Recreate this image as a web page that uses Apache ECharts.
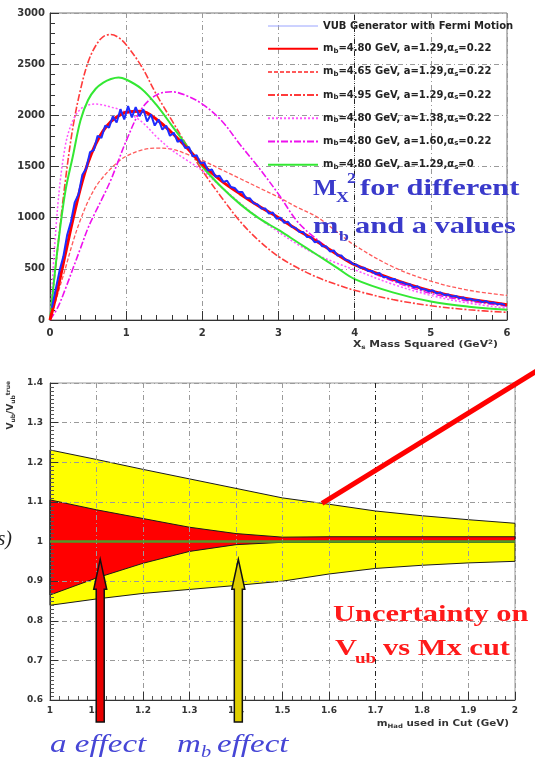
<!DOCTYPE html>
<html>
<head>
<meta charset="utf-8">
<script src="https://cdn.jsdelivr.net/npm/echarts@6/dist/echarts.min.js"></script>
<style>
  html, body { margin: 0; padding: 0; background: #fff; }
  #c { width: 535px; height: 762px; }
</style>
</head>
<body>
<div id="c"></div>
<script>
// ---------- Upper panel: X_s mass-squared spectra (events per bin) ----------
const mxPoints = [0, 0.1, 0.2, 0.3, 0.4, 0.5, 0.6, 0.7, 0.8, 0.9, 1.0,
                  1.2, 1.4, 1.6, 1.8, 2.0,
                  2.25, 2.5, 2.75, 3.0, 3.25, 3.5, 3.75, 4.0,
                  4.5, 5.0, 5.5, 6.0];
const mb480 = [0, 300, 640, 980, 1290, 1540, 1720, 1850, 1940, 1995, 2030,
               2040, 1960, 1830, 1680, 1520,
               1360, 1230, 1110, 1000, 880, 770, 650, 540,
               400, 285, 205, 150];
const mb465 = [0, 250, 500, 760, 980, 1160, 1300, 1400, 1480, 1550, 1600,
               1660, 1680, 1670, 1620, 1560,
               1470, 1380, 1290, 1200, 1100, 1010, 870, 730,
               520, 380, 290, 240];
const mb495 = [0, 700, 1350, 1880, 2250, 2520, 2680, 2770, 2790, 2760, 2690,
               2480, 2200, 1950, 1700, 1460,
               1200, 960, 770, 620, 510, 420, 350, 290,
               200, 140, 100, 75];
const a138 = [0, 1100, 1700, 1950, 2060, 2100, 2110, 2100, 2080, 2060, 2030,
              1940, 1790, 1660, 1560, 1460,
              1300, 1140, 990, 860, 740, 640, 560, 490,
              350, 240, 165, 115];
const a160 = [0, 120, 300, 500, 700, 900, 1060, 1210, 1370, 1560, 1750,
              2060, 2200, 2230, 2190, 2110,
              1950, 1710, 1480, 1230, 960, 790, 650, 540,
              380, 260, 185, 135];
const alphaS0 = [0, 700, 1250, 1600, 1950, 2150, 2260, 2320, 2355, 2370, 2350,
                 2260, 2100, 1900, 1700, 1500,
                 1300, 1130, 990, 880, 760, 640, 520, 400,
                 270, 180, 130, 100];

// generator histogram, 0.05 GeV^2 bins starting at 0
const vubBinWidth = 0.05;
const vubCounts = [
  120, 300, 480, 620, 830, 960, 1150, 1230, 1420, 1480,
  1640, 1660, 1800, 1780, 1900, 1880, 1990, 1930, 2060, 1960,
  2090, 1980, 2080, 1990, 2060, 1940, 2010, 1900, 1960, 1860,
  1900, 1800, 1830, 1740, 1760, 1680, 1690, 1600, 1610, 1530,
  1540, 1460, 1470, 1400, 1410, 1350, 1360, 1300, 1290, 1250,
  1250, 1190, 1190, 1140, 1130, 1090, 1090, 1040, 1050, 990,
  1000, 950, 960, 910, 900, 860, 860, 810, 810, 760,
  770, 720, 720, 670, 680, 630, 630, 590, 580, 550,
  540, 510, 510, 480, 480, 450, 460, 420, 420, 400,
  400, 370, 370, 350, 350, 320, 330, 300, 300, 280,
  290, 260, 270, 245, 250, 230, 235, 215, 220, 200,
  205, 190, 195, 175, 185, 165, 170, 155, 160, 145
];

const legendLabels = [
  'VUB Generator with Fermi Motion',
  'm{s|b}=4.80 GeV, a=1.29,\u03b1{s|s}=0.22',
  'm{s|b}=4.65 GeV, a=1.29,\u03b1{s|s}=0.22',
  'm{s|b}=4.95 GeV, a=1.29,\u03b1{s|s}=0.22',
  'm{s|b}=4.80 GeV, a=1.38,\u03b1{s|s}=0.22',
  'm{s|b}=4.80 GeV, a=1.60,\u03b1{s|s}=0.22',
  'm{s|b}=4.80 GeV, a=1.29,\u03b1{s|s}=0'
];

// ---------- Lower panel: V_ub / V_ub(true) vs. M_Had cut ----------
const cutValues = [1.0, 1.1, 1.2, 1.3, 1.4, 1.5, 1.6, 1.7, 1.8, 1.9, 2.0];
const mbBandHi  = [1.231, 1.207, 1.182, 1.158, 1.134, 1.110, 1.094, 1.077, 1.065, 1.055, 1.046];
const mbBandLo  = [0.839, 0.855, 0.869, 0.879, 0.889, 0.900, 0.918, 0.932, 0.940, 0.946, 0.950];
const aBandHi   = [1.105, 1.080, 1.058, 1.036, 1.020, 1.011, 1.012, 1.012, 1.012, 1.012, 1.012];
const aBandLo   = [0.865, 0.908, 0.945, 0.975, 0.992, 0.998, 0.998, 0.998, 0.998, 0.998, 0.998];
const ratioCut  = [1.0, 2.0];
const ratioVal  = [1.0, 1.0];

const chart = echarts.init(document.getElementById('c'));

const tickFont = { fontFamily: 'DejaVu Sans', fontWeight: 'bold', color: '#333' };
const gridDash = { color: '#9a9a9a', type: [5, 3, 1, 3], width: 1 };
const pairs = (xs, ys) => xs.map((x, i) => [x, ys[i]]);

function curve(name, ys, color, width, type, z) {
  return {
    name, type: 'line', xAxisIndex: 0, yAxisIndex: 0, symbol: 'none',
    smooth: 0.35, z: z || 2,
    lineStyle: { color, width, type },
    itemStyle: { color },
    data: pairs(mxPoints, ys)
  };
}

function band(hi, lo, fill) {
  return {
    type: 'custom', xAxisIndex: 1, yAxisIndex: 1, z: 2, silent: true,
    data: [[cutValues[0], 1]],
    renderItem: (params, api) => {
      const top = cutValues.map((x, i) => api.coord([x, hi[i]]));
      const bot = cutValues.map((x, i) => api.coord([x, lo[i]])).reverse();
      return {
        type: 'polygon',
        shape: { points: top.concat(bot) },
        style: { fill, stroke: '#1a1a1a', lineWidth: 1 }
      };
    }
  };
}

const option = {
  animation: false,
  backgroundColor: '#ffffff',
  grid: [
    { left: 50, top: 13, width: 457, height: 307, show: true, borderColor: '#777', borderWidth: 1 },
    { left: 50, top: 383, width: 465, height: 317, show: true, borderColor: '#999', borderWidth: 1 }
  ],
  legend: {
    orient: 'vertical', left: 262, top: 16, itemWidth: 50, itemHeight: 10, itemGap: 12.7,
    selectedMode: false,
    itemStyle: { opacity: 0, borderWidth: 0 },
    textStyle: {
      fontFamily: 'DejaVu Sans', fontWeight: 'bold', fontSize: 10, color: '#222',
      rich: { s: { fontFamily: 'DejaVu Sans', fontWeight: 'bold', fontSize: 7, color: '#222', padding: [4, 0, 0, 0] } }
    },
    data: [
      { name: legendLabels[0], lineStyle: { color: '#9aa4ff', width: 1 } },
      legendLabels[1], legendLabels[2], legendLabels[3],
      legendLabels[4], legendLabels[5], legendLabels[6]
    ]
  },
  xAxis: [
    {
      gridIndex: 0, type: 'value', min: 0, max: 6, interval: 1,
      axisLine: { onZero: false, lineStyle: { color: '#333' } },
      axisTick: { inside: true, length: 9, lineStyle: { color: '#333' } },
      minorTick: { show: true, splitNumber: 5, length: 5, lineStyle: { color: '#333' } },
      splitLine: { show: true, lineStyle: gridDash },
      axisLabel: Object.assign({ fontSize: 10, margin: 8, formatter: v => String(v) }, tickFont)
    },
    {
      gridIndex: 1, type: 'value', min: 1, max: 2, interval: 0.1, z: 5,
      axisLine: { onZero: false, lineStyle: { color: '#333' } },
      axisTick: { inside: true, length: 8, lineStyle: { color: '#333' } },
      minorTick: { show: true, splitNumber: 5, length: 4, lineStyle: { color: '#555' } },
      splitLine: { show: true, lineStyle: gridDash },
      axisLabel: Object.assign({ fontSize: 9, margin: 6, formatter: v => String(+v.toFixed(1)) }, tickFont)
    }
  ],
  yAxis: [
    {
      gridIndex: 0, type: 'value', min: 0, max: 3000, interval: 500,
      axisLine: { show: true, lineStyle: { color: '#333' } },
      axisTick: { show: true, inside: true, length: 9, lineStyle: { color: '#333' } },
      minorTick: { show: true, splitNumber: 5, length: 5, lineStyle: { color: '#333' } },
      splitLine: { show: true, lineStyle: gridDash },
      axisLabel: Object.assign({ fontSize: 10, margin: 5, formatter: v => String(v) }, tickFont)
    },
    {
      gridIndex: 1, type: 'value', min: 0.6, max: 1.4, interval: 0.1, z: 5,
      axisLine: { show: true, lineStyle: { color: '#333' } },
      axisTick: { show: true, inside: true, length: 8, lineStyle: { color: '#333' } },
      minorTick: { show: true, splitNumber: 10, length: 4, lineStyle: { color: '#555' } },
      splitLine: { show: true, lineStyle: gridDash },
      axisLabel: Object.assign({ fontSize: 9, margin: 7, formatter: v => String(+v.toFixed(1)) }, tickFont)
    }
  ],
  series: [
    {
      name: legendLabels[0], type: 'line', xAxisIndex: 0, yAxisIndex: 0, symbol: 'none', z: 4,
      lineStyle: { color: '#1f2cff', width: 2 }, itemStyle: { color: '#1f2cff' },
      data: vubCounts.map((v, i) => [(i + 0.5) * vubBinWidth, v])
    },
    Object.assign(curve(legendLabels[1], mb480, '#ff0000', 3, 'solid', 3), {
      markLine: {
        silent: true, symbol: 'none', label: { show: false },
        lineStyle: { color: '#222', type: [5, 3, 1, 3], width: 1 },
        data: [{ xAxis: 4 }]
      }
    }),
    curve(legendLabels[2], mb465, '#ff5a5a', 1.3, [4, 2]),
    curve(legendLabels[3], mb495, '#ff3b3b', 1.6, [7, 2, 2, 2]),
    curve(legendLabels[4], a138, '#ff55ff', 1.5, [2, 2]),
    curve(legendLabels[5], a160, '#ee11ee', 1.6, [7, 2, 2, 2]),
    curve(legendLabels[6], alphaS0, '#33e833', 2, 'solid'),

    band(mbBandHi, mbBandLo, '#ffff00'),
    band(aBandHi, aBandLo, '#ff0000'),
    {
      type: 'line', xAxisIndex: 1, yAxisIndex: 1, symbol: 'none', z: 6, silent: true,
      lineStyle: { color: '#4f9a2a', width: 2.5 },
      data: pairs(ratioCut, ratioVal),
      markLine: {
        silent: true, symbol: 'none', label: { show: false },
        lineStyle: { color: '#222', type: [5, 3, 1, 3], width: 1 },
        data: [{ xAxis: 1.7 }]
      }
    }
  ]
};

chart.setOption(option);

// ---------- annotations ----------
function txt(text, x, y, o) {
  return {
    type: 'text', x, y, scaleX: o.sx || 1, rotation: o.rot || 0, z: 30,
    style: {
      text, fill: o.color || '#222', fontSize: o.size,
      fontFamily: o.ff || 'Liberation Serif', fontWeight: o.fw || 'normal',
      fontStyle: o.it ? 'italic' : 'normal',
      align: o.align || 'left', verticalAlign: 'middle',
      rich: o.rich
    }
  };
}

const blueTitle = '#3a3acb';
const blueNote = '#4646d6';
const redNote = '#ff1a1a';
const S = 1.27;
const g = [];

// title block in the upper panel
g.push(txt('M', 313, 189, { size: 24, fw: 'bold', color: blueTitle, sx: 1.05 }));
g.push(txt('X', 336, 198, { size: 14, fw: 'bold', color: blueTitle, sx: S }));
g.push(txt('2', 347, 179, { size: 14, fw: 'bold', color: blueTitle, sx: S }));
g.push(txt('for different', 360, 189, { size: 24, fw: 'bold', color: blueTitle, sx: S }));
g.push(txt('m', 313, 227, { size: 24, fw: 'bold', color: blueTitle, sx: S }));
g.push(txt('b', 339, 237, { size: 14, fw: 'bold', color: blueTitle, sx: S }));
g.push(txt('and a values', 355, 227, { size: 24, fw: 'bold', color: blueTitle, sx: S }));

// axis titles
const axRich = {
  s: { fontFamily: 'DejaVu Sans', fontWeight: 'bold', fontSize: 6, fill: '#333', padding: [5, 0, 0, 0] },
  p: { fontFamily: 'DejaVu Sans', fontWeight: 'bold', fontSize: 6, fill: '#333', padding: [0, 0, 6, 0] }
};
g.push(txt('X{s|s} Mass Squared (GeV{p|2})', 498, 345, { size: 9, ff: 'DejaVu Sans', fw: 'bold', color: '#333', sx: 1.2, align: 'right', rich: axRich }));
g.push(txt('m{s|Had} used in Cut (GeV)', 509, 724, { size: 9, ff: 'DejaVu Sans', fw: 'bold', color: '#333', sx: 1.15, align: 'right', rich: axRich }));
g.push(txt('V{s|ub}/V{s|ub}{p|true}', 11, 381, { size: 9, ff: 'DejaVu Sans', fw: 'bold', color: '#333', align: 'right', rot: Math.PI / 2, rich: axRich }));

// lower panel notes
g.push(txt('Uncertainty on', 333, 615, { size: 24, fw: 'bold', color: redNote, sx: S }));
g.push(txt('V', 335, 649, { size: 24, fw: 'bold', color: redNote, sx: S }));
g.push(txt('ub', 355, 659, { size: 15, fw: 'bold', color: redNote, sx: S }));
g.push(txt('vs Mx cut', 383, 649, { size: 24, fw: 'bold', color: redNote, sx: S }));
g.push(txt('a effect', 50, 745, { size: 26, it: true, color: blueNote, sx: S }));
g.push(txt('m', 177, 745, { size: 26, it: true, color: blueNote, sx: S }));
g.push(txt('b', 201, 753, { size: 16, it: true, color: blueNote, sx: S }));
g.push(txt('effect', 217, 745, { size: 26, it: true, color: blueNote, sx: S }));
g.push(txt('s)', 12, 540, { size: 20, it: true, color: '#222', align: 'right' }));

// arrows marking where each effect dominates
const arrowSpecs = [
  { cut: 1.108, tip: 0.955, fill: '#e80000' },
  { cut: 1.405, tip: 0.955, fill: '#e0cf00' }
];
arrowSpecs.forEach(a => {
  const [tx, ty] = chart.convertToPixel({ gridIndex: 1 }, [a.cut, a.tip]);
  const yb = 722, sw = 4, hw = 6.5, hl = 30;
  g.push({
    type: 'polygon', z: 40,
    shape: { points: [[tx - sw, yb], [tx - sw, ty + hl], [tx - hw, ty + hl], [tx, ty],
                      [tx + hw, ty + hl], [tx + sw, ty + hl], [tx + sw, yb]] },
    style: { fill: a.fill, stroke: '#111', lineWidth: 1.5 }
  });
});

// pointer from the m_b band edge off to the right
const [px, py] = chart.convertToPixel({ gridIndex: 1 }, [1.585, 1.096]);
g.push({
  type: 'line', z: 40,
  shape: { x1: px, y1: py, x2: px + 230, y2: py - 142 },
  style: { stroke: '#ff0000', lineWidth: 5 }
});

chart.setOption({ graphic: g });
</script>
</body>
</html>
